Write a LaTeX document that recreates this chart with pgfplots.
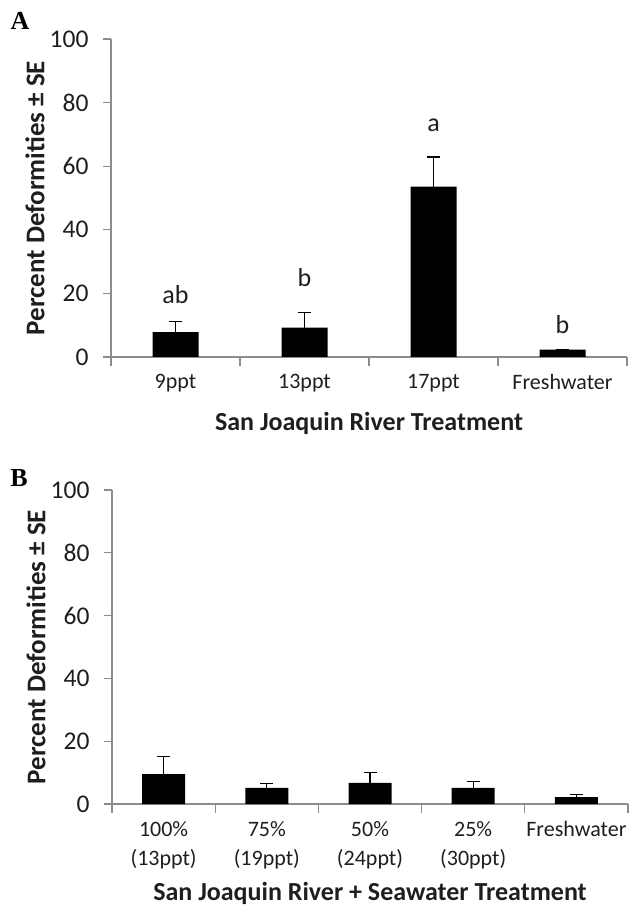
\documentclass[border=0pt]{standalone}
\usepackage{pgfplots}
\pgfplotsset{compat=1.18}
\usepackage{fontspec}
\setmainfont{Carlito}
\newfontfamily\panelfont{Liberation Serif}
\definecolor{axgray}{RGB}{140,140,140}
\definecolor{txt}{RGB}{30,30,30}
\pgfplotsset{
  panel/.style={
    scale only axis,
    axis x line*=bottom, axis y line*=left,
    axis line style={axgray, line width=1.1bp, -},
    ymin=0, ymax=100, ytick={0,20,...,100},
    tick align=outside,
    major tick length=8bp, minor tick length=9bp,
    every tick/.style={axgray, line width=1.1bp},
    every major x tick/.append style={draw=none},
    /pgf/number format/assume math mode=true,
    yticklabel style={font=\fontsize{25.5bp}{30bp}\selectfont, text=txt, xshift=-11bp},
    xticklabel style={font=\fontsize{22bp}{29bp}\selectfont, text=txt, align=center},
    ylabel={\textbf{Percent Deformities ± SE}},
    ylabel style={font=\fontsize{27bp}{30bp}\selectfont, text=txt, at={(axis description cs:0,0.5)}, anchor=center, yshift=76bp},
    xlabel style={font=\fontsize{26bp}{30bp}\selectfont, text=txt, at={(axis description cs:0.5,0)}, anchor=center},
    ybar, 
    clip=false,
    error bars/y dir=plus, error bars/y explicit,
    error bars/error bar style={black, line width=1.3bp},
    error bars/error mark options={rotate=90, mark size=6.5bp, line width=1.3bp, black},
  }
}
\begin{document}
\begin{tikzpicture}
\useasboundingbox (0,0) rectangle (630bp,908bp);
\node[font=\panelfont\bfseries\fontsize{26bp}{28bp}\selectfont, anchor=center] at (20bp,887bp) {A};
\node[font=\panelfont\bfseries\fontsize{26bp}{28bp}\selectfont, anchor=center] at (19bp,430bp) {B};
% Panel A
\begin{axis}[panel,
  at={(111bp,551bp)}, anchor=south west,
  width=516bp, height=318bp,
  xmin=0.5, xmax=4.5,
  xtick={1,2,3,4},
  xticklabels={9ppt,13ppt,17ppt,Freshwater},
  minor xtick={0.5,1.5,2.5,3.5,4.5},
  xticklabel style={yshift=-6bp},
  xlabel={\textbf{San Joaquin River Treatment}},
  xlabel style={yshift=-66bp},
  bar width=46bp,
]
\addplot[fill=black, draw=none] coordinates {
  (1,7.85) +- (0,3.35)
  (2,9.2)  +- (0,4.8)
  (3,53.6) +- (0,9.3)
  (4,2.3)  +- (0,0)
};
\node[font=\fontsize{26bp}{30bp}\selectfont, text=txt, anchor=base] at (axis cs:1,16.8) {ab};
\node[font=\fontsize{26bp}{30bp}\selectfont, text=txt, anchor=base] at (axis cs:2,22.2) {b};
\node[font=\fontsize{26bp}{30bp}\selectfont, text=txt, anchor=base] at (axis cs:3,70.9) {a};
\node[font=\fontsize{26bp}{30bp}\selectfont, text=txt, anchor=base] at (axis cs:4,7.5) {b};
\end{axis}
% Panel B
\begin{axis}[panel,
  at={(112bp,104bp)}, anchor=south west,
  width=516bp, height=314bp,
  xmin=0.5, xmax=5.5,
  xtick={1,2,3,4,5},
  xticklabels={100\%\\(13ppt),75\%\\(19ppt),50\%\\(24ppt),25\%\\(30ppt),Freshwater\\\strut},
  minor xtick={0.5,1.5,2.5,3.5,4.5,5.5},
  xticklabel style={yshift=-6bp},
  xlabel={\textbf{San Joaquin River + Seawater Treatment}},
  xlabel style={yshift=-89bp},
  bar width=43bp,
]
\addplot[fill=black, draw=none] coordinates {
  (1,9.5) +- (0,5.6)
  (2,5.1) +- (0,1.5)
  (3,6.7) +- (0,3.4)
  (4,5.1) +- (0,2.1)
  (5,2.2) +- (0,0.8)
};
\end{axis}
\end{tikzpicture}
\end{document}
